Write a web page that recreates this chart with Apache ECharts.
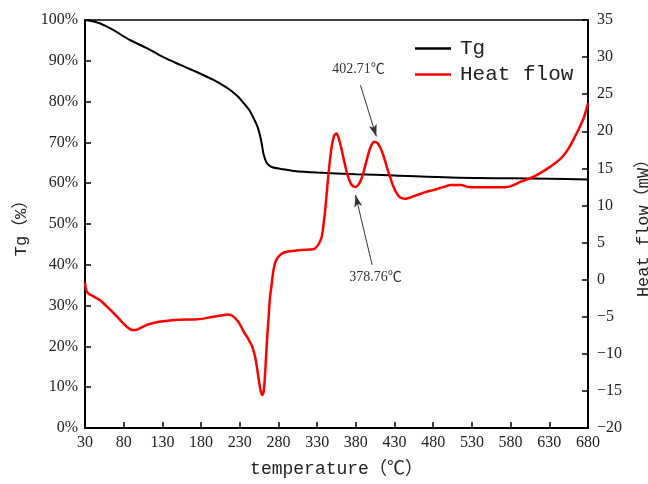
<!DOCTYPE html>
<html>
<head>
<meta charset="utf-8">
<script src="https://cdn.jsdelivr.net/npm/echarts@6/dist/echarts.min.js"></script>
<style>
  html, body { margin: 0; padding: 0; background: #fff; }
  #chart { width: 648px; height: 484px; }
</style>
</head>
<body>
<div id="chart"></div>
<script>
// Tg curve (temperature in C, mass %)
const tgTemp = [30, 40, 49, 60, 67, 80, 88, 100, 110, 130, 153, 175, 196, 210, 218, 228, 235, 242, 248, 253,
    257, 259, 261, 264, 267, 272, 283, 300, 330, 380, 430, 503, 580, 630, 680];
const tgValue = [100, 99.7, 99.2, 98.2, 97.5, 96, 95.1, 94, 93.1, 91, 89, 87.2, 85.3, 83.8, 82.8, 81.2, 79.6, 78, 75.9, 73.8,
    71, 69, 66.9, 65.3, 64.5, 63.9, 63.5, 63, 62.6, 62.2, 61.9, 61.4, 61.2, 61.1, 60.9];

// Heat flow curve (temperature in C, mW)
const hfTemp = [30, 31, 34, 40, 49, 58, 67, 75, 84, 90, 95, 102, 110, 120, 131, 153, 175, 196, 208, 213,
    218, 224, 230, 235, 241, 246, 250, 252, 255, 257, 259, 261, 263, 265, 267, 269, 271, 273, 275, 277,
    280, 286, 291, 310, 326, 330, 333, 336, 340, 344, 348, 352, 355, 358, 361, 364, 368, 372, 376, 380, 384,
    388, 392, 396, 400, 404, 408, 412, 416, 420, 424, 428, 432, 436, 440, 444, 451, 459, 470, 481, 494,
    503, 516, 525, 533, 554, 576, 585, 593, 610, 628, 645, 655, 662, 669, 675, 680];
const hfValue = [-0.4, -1.2, -1.85, -2.2, -2.75, -3.6, -4.5, -5.4, -6.35, -6.75, -6.8, -6.5, -6.1, -5.8, -5.6, -5.4, -5.35, -5.0, -4.8, -4.7,
    -4.75, -5.2, -6.0, -7.0, -8.0, -9.0, -10.5, -11.7, -13.8, -15.0, -15.55, -15.0, -12.2, -8.5, -5.45, -2.5, -0.8, 0.9, 2.0, 2.6,
    3.1, 3.6, 3.77, 4.0, 4.13, 4.5, 5.0, 5.8, 9.0, 13.5, 17.4, 19.4, 19.7, 19.0, 17.8, 16.4, 14.6, 13.3, 12.6, 12.5, 12.9,
    13.8, 15.3, 16.9, 18.1, 18.6, 18.4, 17.7, 16.6, 15.2, 13.9, 12.7, 11.8, 11.2, 10.95, 10.9, 11.1, 11.4, 11.8, 12.1, 12.5,
    12.75, 12.75, 12.5, 12.45, 12.45, 12.5, 12.8, 13.2, 13.9, 15.0, 16.35, 17.7, 19.05, 20.5, 21.96, 23.8];

// Annotations: text, text position, arrow start, arrow end (data coords on heat flow axis)
const noteText = ['402.71℃', '378.76℃'];
const notePos = [[383.5, 28.3], [405.5, 0.3]];
const arrowFrom = [[386, 26.2], [401, 2.0]];
const arrowTo = [[406.5, 19.3], [379.6, 11.4]];

const monoFont = '"Liberation Mono", "Noto Sans CJK SC", monospace';
const serifFont = '"Liberation Serif", "Noto Sans CJK SC", serif';

const chart = echarts.init(document.getElementById('chart'));

const option = {
    backgroundColor: '#fff',
    animation: false,
    grid: {
        left: 85, right: 60, top: 20, bottom: 56,
        outerBoundsMode: 'none', containLabel: false,
        show: true, borderColor: '#000', borderWidth: 1.5
    },
    legend: {
        orient: 'vertical',
        left: 410,
        top: 33,
        icon: 'rect',
        itemWidth: 36,
        itemHeight: 2.5,
        itemGap: 5,
        textStyle: { fontFamily: monoFont, fontSize: 21, color: '#222', padding: [0, 0, 0, 4] },
        data: ['Tg', 'Heat flow']
    },
    xAxis: {
        type: 'value',
        min: 30,
        max: 680,
        interval: 50,
        name: 'temperature（℃）',
        nameLocation: 'middle',
        nameGap: 32,
        nameTextStyle: { fontFamily: monoFont, fontSize: 18, color: '#222' },
        axisLine: { lineStyle: { color: '#000', width: 2 } },
        axisTick: { inside: true, length: 6, lineStyle: { color: '#000', width: 1.5 } },
        axisLabel: { fontFamily: serifFont, fontSize: 16, color: '#222', margin: 7 },
        splitLine: { show: false }
    },
    yAxis: [
        {
            type: 'value',
            min: 0,
            max: 100,
            interval: 10,
            position: 'left',
            name: 'Tg（%）',
            nameLocation: 'middle',
            nameRotate: 90,
            nameGap: 54,
            nameTextStyle: { fontFamily: monoFont, fontSize: 17, color: '#222' },
            axisLine: { show: true, lineStyle: { color: '#000', width: 2 } },
            axisTick: { show: true, inside: true, length: 6, lineStyle: { color: '#000', width: 1.5 } },
            axisLabel: { fontFamily: serifFont, fontSize: 16, color: '#222', margin: 7, formatter: '{value}%' },
            splitLine: { show: false }
        },
        {
            type: 'value',
            min: -20,
            max: 35,
            interval: 5,
            position: 'right',
            name: 'Heat flow（mW）',
            nameLocation: 'middle',
            nameRotate: 90,
            nameGap: 47,
            nameTextStyle: { fontFamily: monoFont, fontSize: 17, color: '#222' },
            axisLine: { show: true, lineStyle: { color: '#000', width: 2 } },
            axisTick: { show: true, inside: true, length: 6, lineStyle: { color: '#000', width: 1.5 } },
            axisLabel: {
                fontFamily: serifFont, fontSize: 16, color: '#222', margin: 9,
                formatter: v => String(v).replace('-', '−')
            },
            splitLine: { show: false }
        }
    ],
    series: [
        {
            name: 'Tg',
            type: 'line',
            yAxisIndex: 0,
            symbol: 'none',
            smooth: 0.3,
            lineStyle: { color: '#000', width: 2 },
            itemStyle: { color: '#000' },
            data: tgTemp.map((t, i) => [t, tgValue[i]])
        },
        {
            name: 'Heat flow',
            type: 'line',
            yAxisIndex: 1,
            symbol: 'none',
            smooth: 0.3,
            z: 3,
            lineStyle: { color: '#ff0000', width: 2.5 },
            itemStyle: { color: '#ff0000' },
            data: hfTemp.map((t, i) => [t, hfValue[i]]),
            markLine: {
                silent: true,
                symbol: ['none', 'arrow'],
                symbolSize: [6, 12],
                label: { show: false },
                lineStyle: { color: '#333', width: 1, type: 'solid' },
                data: arrowFrom.map((p, i) => [{ coord: p }, { coord: arrowTo[i] }])
            },
            markPoint: {
                silent: true,
                symbol: 'circle',
                symbolSize: 1,
                itemStyle: { color: 'rgba(0,0,0,0)' },
                label: {
                    show: true,
                    position: 'inside',
                    fontFamily: serifFont,
                    fontSize: 14,
                    color: '#333',
                    formatter: p => p.name
                },
                data: noteText.map((txt, i) => ({ name: txt, coord: notePos[i] }))
            }
        }
    ]
};

chart.setOption(option);
</script>
</body>
</html>
